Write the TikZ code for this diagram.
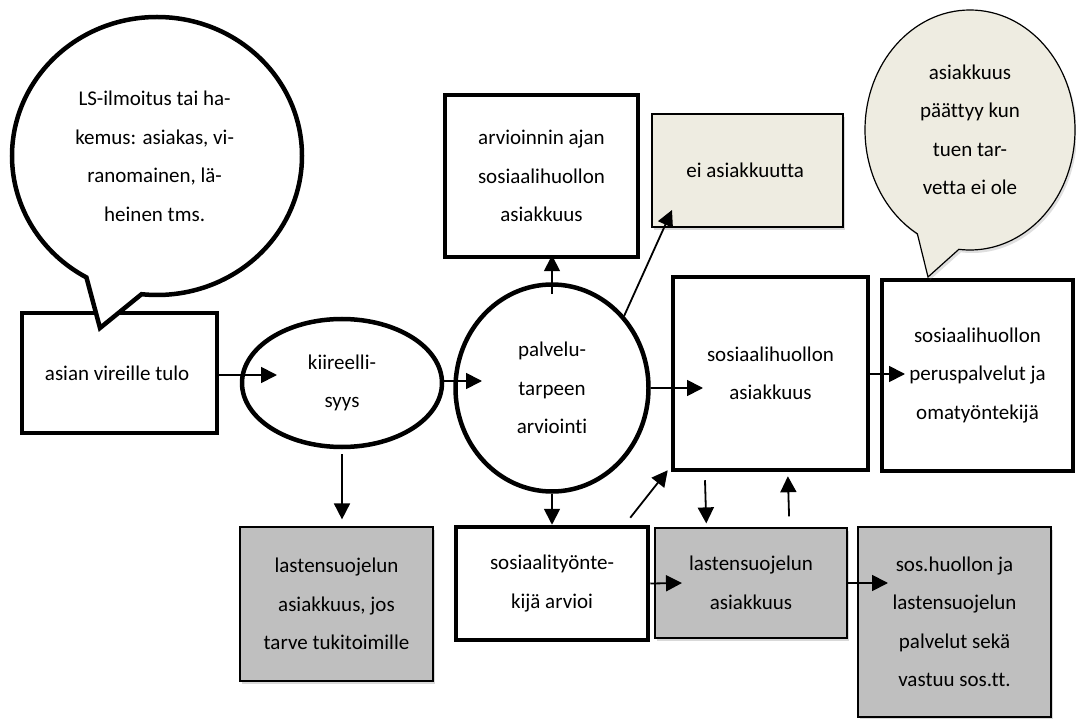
\documentclass[tikz,border=0pt]{standalone}
\usepackage{fontspec}
\setmainfont{Carlito}[Ligatures=NoCommon]
\usepackage{tikz}
\usetikzlibrary{shapes,shapes.callouts,arrows.meta,shadows}
\usetikzlibrary{positioning}
\definecolor{beige}{HTML}{EEECE1}
\definecolor{harmaa}{HTML}{BFBFBF}
\newcommand{\rivifont}{\fontsize{21}{38.5}\selectfont}
\tikzstyle{arrow} = [line width=1.8pt,-{Triangle[length=16pt,width=16pt]}]
\tikzstyle{thickbox} = [
    rectangle, draw=black, line width=4.5pt, fill=white, align=center,
    inner sep=0pt, font=\rivifont]
\tikzstyle{greybox} = [
    rectangle, draw=black, line width=1.2pt, fill=harmaa, align=center,
    inner sep=0pt, font=\rivifont,
    drop shadow={shadow xshift=2pt, shadow yshift=-3pt, opacity=0.3}]
\tikzstyle{oval} = [
    ellipse, draw=black, line width=4.5pt, fill=white, align=center,
    inner sep=0pt, font=\rivifont]

\begin{document}
\begin{tikzpicture}[x=1pt, y=-1pt]
\useasboundingbox (0,0) rectangle (1076,719);

\node (vireille-tulo) [thickbox, minimum width=195, minimum height=120] at (119.5,373) {
    asian vireille tulo
};

\node (kiireellisyys) [oval, minimum width=200, minimum height=128] at (342,383) {
    kiireelli-\\
    syys
};

\node (arviointi) [oval, minimum width=193, minimum height=207] at (552,388) {
    palvelu-\\
    tarpeen\\
    arviointi
};

\node (arvioinnin-ajan) [thickbox, minimum width=193, minimum height=162] at (541.5,176) {
    arvioinnin ajan\\
    sosiaalihuollon\\
    asiakkuus
};

\node (ei-asiakkuutta) [greybox, fill=beige, minimum width=191, minimum height=113] at (747.5,170.5) {
    ei asiakkuutta
};

\node (sos-asiakkuus) [thickbox, minimum width=195, minimum height=193] at (770.5,373.5) {
    sosiaalihuollon\\
    asiakkuus
};

\node (peruspalvelut) [thickbox, minimum width=191, minimum height=191] at (977.5,375.5) {
    sosiaalihuollon\\
    peruspalvelut ja\\
    omatyöntekijä
};

\node (ls-jos) [greybox, minimum width=193, minimum height=154] at (336.5,604) {
    lastensuojelun\\
    asiakkuus, jos\\
    tarve tukitoimille
};

\node (sostyontekija) [thickbox, minimum width=192, minimum height=113] at (552,583.5) {
    sosiaalityönte-\\
    kijä arvioi
};

\node (ls-asiakkuus) [greybox, minimum width=192, minimum height=110] at (751,583) {
    lastensuojelun\\
    asiakkuus
};

\node (sos-tt) [greybox, minimum width=193, minimum height=190] at (954.5,622) {
    sos.huollon ja\\
    lastensuojelun\\
    palvelut sekä\\
    vastuu sos.tt.
};

% puhekuplat
\node (ls-ilmoitus) [ellipse callout, draw=black, line width=4.5pt, fill=white,
    align=center, inner sep=0pt, font=\rivifont,
    minimum width=290, minimum height=278,
    callout absolute pointer={(100,328)}, callout pointer arc=23] at (157,156) {
    \raisebox{4pt}{\begin{tabular}{@{}c@{}}LS-ilmoitus tai ha-\\
    kemus: asiakas, vi-\\
    ranomainen, lä-\\
    heinen tms.\end{tabular}}
};

\node (paattyy) [ellipse callout, draw=black, line width=1.2pt, fill=beige,
    align=center, inner sep=0pt, font=\rivifont,
    minimum width=210, minimum height=240,
    callout absolute pointer={(928,277)}, callout pointer arc=24,
    drop shadow={shadow xshift=2pt, shadow yshift=-3pt, opacity=0.25}] at (970,130) {
    asiakkuus\\
    päättyy kun\\
    tuen tar-\\
    vetta ei ole
};

\coordinate (tip-kiire) at (277,375);
\coordinate (tip-arviointi) at (482,381);
\coordinate (tip-ei) at (672,210);
\coordinate (tip-asiakkuus) at (703,388);
\coordinate (tip-peruspalvelut) at (905,374);
\coordinate (tip-ls) at (682,583);
\coordinate (tip-sos-tt) at (888,583);

\draw [arrow] (vireille-tulo.east |- tip-kiire) -- (tip-kiire);
\draw [arrow] (kiireellisyys.east |- tip-arviointi) -- (tip-arviointi);
\draw [arrow, shorten <=5pt, shorten >=7pt] (kiireellisyys.south) -- (kiireellisyys.south |- ls-jos.north);
\draw [arrow, shorten <=-12pt, shorten >=-4pt] (arviointi.north) -- (arviointi.north |- arvioinnin-ajan.south);
\draw [arrow] (arviointi.45) -- (tip-ei);
\draw [arrow] (arviointi.east) -- (tip-asiakkuus);
\draw [arrow] (sos-asiakkuus.east |- tip-peruspalvelut) -- (tip-peruspalvelut);
\draw [arrow] (arviointi.south) -- (sostyontekija.north);
\draw [arrow] ([xshift=-20pt,yshift=7pt]sostyontekija.north east) -- ([xshift=-3pt,yshift=2pt]sos-asiakkuus.south west);
\draw [arrow] (sostyontekija.east) -- (tip-ls);
\draw [arrow, shorten <=8pt, shorten >=4pt] ([xshift=34pt]sos-asiakkuus.south west) -- ([xshift=52pt]ls-asiakkuus.north west);
\draw [arrow, shorten <=11pt, shorten >=4pt] ([xshift=135pt]ls-asiakkuus.north west) -- ([xshift=117pt]sos-asiakkuus.south west);
\draw [arrow] (ls-asiakkuus.east) -- (tip-sos-tt);
\end{tikzpicture}
\end{document}
